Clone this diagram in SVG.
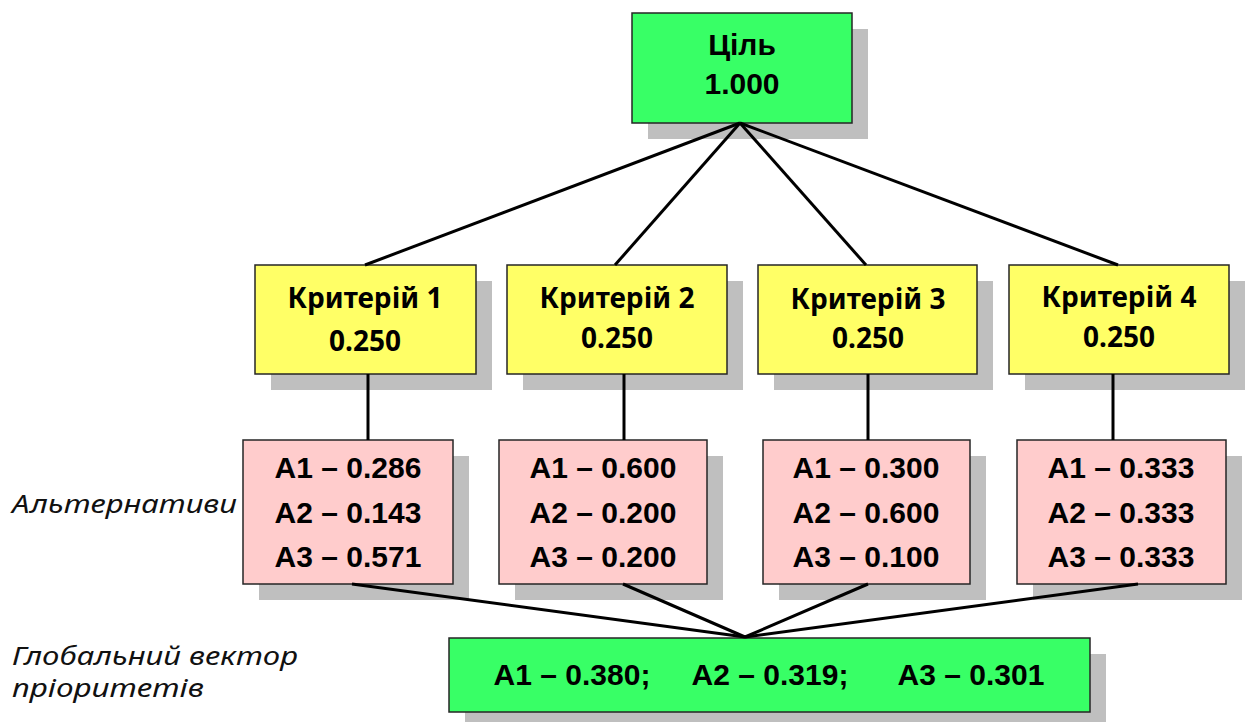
<svg xmlns="http://www.w3.org/2000/svg" width="1248" height="722" viewBox="0 0 1248 722">
  <style>
    .shadow { fill: #bfbfbf; }
    .box { stroke: #262626; stroke-width: 1.5; }
    .goal { fill: #38ff66; }
    .crit { fill: #ffff66; }
    .alt { fill: #ffcccc; }
    .arial { font-family: "Liberation Sans", Arial, sans-serif; font-weight: bold; font-size: 30px; fill: #000; text-anchor: middle; }
    .crit-t { font-family: "Noto Sans", "Open Sans", sans-serif; font-weight: bold; font-size: 28px; fill: #000; text-anchor: middle; }
    .side { font-family: "Noto Sans", "Open Sans", sans-serif; font-style: italic; font-size: 25px; fill: #111; }
    .link { stroke: #000; stroke-width: 3; fill: none; }
  </style>

  <rect width="1248" height="722" fill="#ffffff"/>

  <!-- goal -->
  <g id="goal">
    <rect class="shadow" x="648" y="29" width="220" height="110"/>
    <rect class="box goal" x="632" y="13" width="220" height="110"/>
    <text class="arial" x="742" y="55">Ціль</text>
    <text class="arial" x="742" y="94">1.000</text>
  </g>

  <!-- criteria -->
  <g id="criterion-1">
    <rect class="shadow" x="271" y="281" width="221" height="109"/>
    <rect class="box crit" x="255" y="265" width="221" height="109"/>
    <text class="crit-t" x="365" y="308">Критерій 1</text>
    <text class="crit-t" x="365" y="351">0.250</text>
  </g>
  <g id="criterion-2">
    <rect class="shadow" x="523" y="281" width="220" height="109"/>
    <rect class="box crit" x="507" y="265" width="220" height="109"/>
    <text class="crit-t" x="617" y="308">Критерій 2</text>
    <text class="crit-t" x="617" y="348">0.250</text>
  </g>
  <g id="criterion-3">
    <rect class="shadow" x="774" y="281" width="219" height="109"/>
    <rect class="box crit" x="758" y="265" width="219" height="109"/>
    <text class="crit-t" x="868" y="309">Критерій 3</text>
    <text class="crit-t" x="868" y="348">0.250</text>
  </g>
  <g id="criterion-4">
    <rect class="shadow" x="1025" y="281" width="220" height="109"/>
    <rect class="box crit" x="1009" y="265" width="220" height="109"/>
    <text class="crit-t" x="1119" y="307">Критерій 4</text>
    <text class="crit-t" x="1119" y="347">0.250</text>
  </g>

  <!-- alternatives per criterion -->
  <g id="alternatives-1">
    <rect class="shadow" x="259" y="456" width="210" height="144"/>
    <rect class="box alt" x="243" y="440" width="210" height="144"/>
    <text class="arial" x="348" y="478">A1 – 0.286</text>
    <text class="arial" x="348" y="523">A2 – 0.143</text>
    <text class="arial" x="348" y="567">A3 – 0.571</text>
  </g>
  <g id="alternatives-2">
    <rect class="shadow" x="515" y="456" width="208" height="144"/>
    <rect class="box alt" x="499" y="440" width="208" height="144"/>
    <text class="arial" x="603" y="478">A1 – 0.600</text>
    <text class="arial" x="603" y="523">A2 – 0.200</text>
    <text class="arial" x="603" y="567">A3 – 0.200</text>
  </g>
  <g id="alternatives-3">
    <rect class="shadow" x="779" y="456" width="207" height="144"/>
    <rect class="box alt" x="763" y="440" width="207" height="144"/>
    <text class="arial" x="866" y="478">A1 – 0.300</text>
    <text class="arial" x="866" y="523">A2 – 0.600</text>
    <text class="arial" x="866" y="567">A3 – 0.100</text>
  </g>
  <g id="alternatives-4">
    <rect class="shadow" x="1033" y="456" width="209" height="144"/>
    <rect class="box alt" x="1017" y="440" width="209" height="144"/>
    <text class="arial" x="1121" y="478">A1 – 0.333</text>
    <text class="arial" x="1121" y="523">A2 – 0.333</text>
    <text class="arial" x="1121" y="567">A3 – 0.333</text>
  </g>

  <!-- global priority vector -->
  <g id="global-vector">
    <rect class="shadow" x="465" y="654" width="641" height="74"/>
    <rect class="box goal" x="449" y="638" width="641" height="74"/>
    <text class="arial" x="572" y="685">A1 – 0.380;</text>
    <text class="arial" x="770" y="685">A2 – 0.319;</text>
    <text class="arial" x="971" y="685">A3 – 0.301</text>
  </g>

  <!-- side captions -->
  <g id="labels">
    <text class="side" x="12" y="513" textLength="225" lengthAdjust="spacingAndGlyphs">Альтернативи</text>
    <text class="side" x="12" y="665" textLength="286" lengthAdjust="spacingAndGlyphs">Глобальний вектор</text>
    <text class="side" x="12" y="697" textLength="192" lengthAdjust="spacingAndGlyphs">пріоритетів</text>
  </g>

  <!-- connectors -->
  <g id="connectors">
    <line class="link" x1="740" y1="123" x2="365" y2="265"/>
    <line class="link" x1="740" y1="123" x2="615" y2="265"/>
    <line class="link" x1="740" y1="123" x2="866" y2="265"/>
    <line class="link" x1="740" y1="123" x2="1118" y2="265"/>

    <line class="link" x1="368" y1="374" x2="368" y2="440"/>
    <line class="link" x1="624" y1="374" x2="624" y2="440"/>
    <line class="link" x1="868" y1="374" x2="868" y2="440"/>
    <line class="link" x1="1113" y1="374" x2="1113" y2="440"/>

    <line class="link" x1="352" y1="584" x2="745" y2="637"/>
    <line class="link" x1="623" y1="584" x2="745" y2="637"/>
    <line class="link" x1="868" y1="584" x2="745" y2="637"/>
    <line class="link" x1="1138" y1="584" x2="745" y2="637"/>
  </g>
</svg>
